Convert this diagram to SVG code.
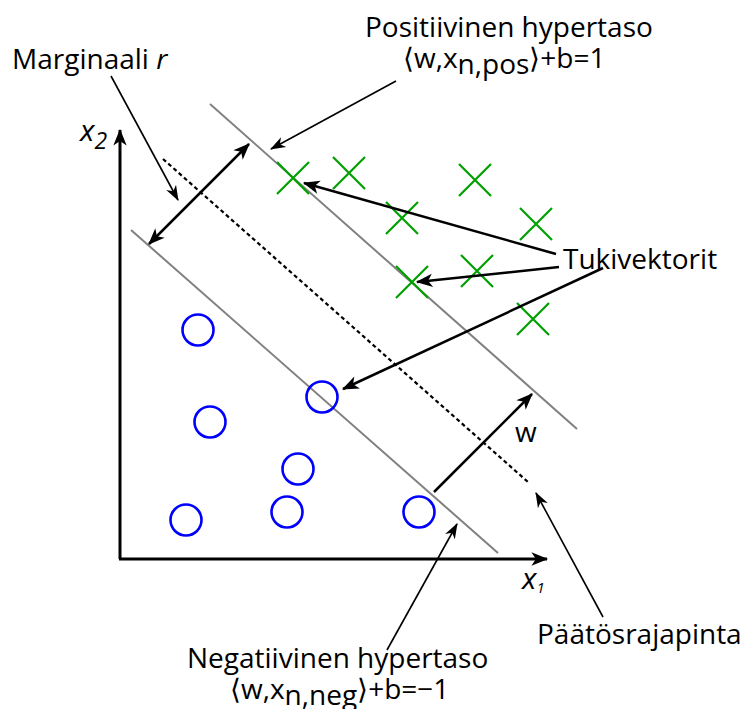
<svg xmlns="http://www.w3.org/2000/svg" width="744" height="709" viewBox="0 0 744 709">
<style>
text{font-family:"Open Sans","Liberation Sans",sans-serif;font-size:28px;fill:#000}
.it{font-style:italic}
.hp{stroke:#808080;stroke-width:2;fill:none}
.dec{stroke:#000;stroke-width:2.2;stroke-dasharray:4,3;fill:none}
.axis{stroke:#000;stroke-width:3;fill:none}
.thick{stroke:#000;stroke-width:2.5;fill:none}
.thin{stroke:#000;stroke-width:1.6;fill:none}
.cross{stroke:#00a000;stroke-width:2.2;fill:none}
.circ{stroke:#0000ff;stroke-width:2.6;fill:none}
</style>
<defs>
<marker id="ah" markerUnits="userSpaceOnUse" markerWidth="20" markerHeight="20" viewBox="-16 -8 18 16" refX="0" refY="0" orient="auto-start-reverse">
<path d="M1,0 L-14,-6 L-10,0 L-14,6 Z" fill="#000"/>
</marker>
<marker id="ahs" markerUnits="userSpaceOnUse" markerWidth="20" markerHeight="20" viewBox="-16 -8 18 16" refX="0" refY="0" orient="auto-start-reverse">
<path d="M1,0 L-13,-5 L-9,0 L-13,5 Z" fill="#000"/>
</marker>
<g id="x"><path d="M-16,-16 L16,16 M16,-16 L-16,16" class="cross"/></g>
</defs>

<g id="axes">
<path d="M120,559 L120,130" class="axis" marker-end="url(#ah)"/>
<path d="M119,559 L547,559" class="axis" marker-end="url(#ah)"/>
<text x="80" y="141" class="it" style="font-size:30px">x<tspan dy="8" style="font-size:23px">2</tspan></text>
<text x="522" y="589" class="it" style="font-size:30px">x<tspan dy="4" style="font-size:15px">1</tspan></text>
</g>

<g id="hyperplanes">
<path d="M210,104 L577,429" class="hp"/>
<path d="M131,230 L498,553" class="hp"/>
<path d="M163,159 L528,482" class="dec"/>
</g>

<g id="positive-points">
<use href="#x" x="293" y="178"/>
<use href="#x" x="349" y="173"/>
<use href="#x" x="475" y="180"/>
<use href="#x" x="402" y="218"/>
<use href="#x" x="536" y="224"/>
<use href="#x" x="412" y="282"/>
<use href="#x" x="477" y="271"/>
<use href="#x" x="533" y="319"/>
</g>

<g id="negative-points">
<circle cx="198" cy="330" r="15.5" class="circ"/>
<circle cx="322" cy="397" r="15.5" class="circ"/>
<circle cx="210" cy="422" r="15.5" class="circ"/>
<circle cx="298" cy="469" r="15.5" class="circ"/>
<circle cx="186" cy="520" r="15.5" class="circ"/>
<circle cx="287" cy="512" r="15.5" class="circ"/>
<circle cx="419" cy="512" r="15.5" class="circ"/>
</g>

<g id="connectors">
<path d="M149,244 L249,144" class="thick" marker-start="url(#ah)" marker-end="url(#ah)"/>
<path d="M434,492 L532,394" class="thick" marker-end="url(#ah)"/>
<path d="M556,254 L304,183" class="thick" marker-end="url(#ah)"/>
<path d="M559,267 L417,282" class="thick" marker-end="url(#ah)"/>
<path d="M603,268 L343,389" class="thick" marker-end="url(#ah)"/>
<path d="M111,76 L178,200" class="thin" marker-end="url(#ahs)"/>
<path d="M396,81 L271,149" class="thin" marker-end="url(#ahs)"/>
<path d="M387,650 L457,524" class="thin" marker-end="url(#ahs)"/>
<path d="M603,617 L536,493" class="thin" marker-end="url(#ahs)"/>
</g>

<g id="label-margin"><text x="12" y="69">Marginaali <tspan class="it">r</tspan></text></g>
<g id="label-positive">
<text x="365" y="37">Positiivinen hypertaso</text>
<text x="403" y="68">⟨w,x<tspan dy="6">n,pos</tspan><tspan dy="-6">⟩+b=1</tspan></text>
</g>
<g id="label-support"><text x="563" y="269">Tukivektorit</text></g>
<g id="label-w"><text x="515" y="442">w</text></g>
<g id="label-negative">
<text x="187" y="668">Negatiivinen hypertaso</text>
<text x="230" y="699">⟨w,x<tspan dy="6">n,neg</tspan><tspan dy="-6">⟩+b=−1</tspan></text>
</g>
<g id="label-decision"><text x="537" y="644">Päätösrajapinta</text></g>
</svg>
